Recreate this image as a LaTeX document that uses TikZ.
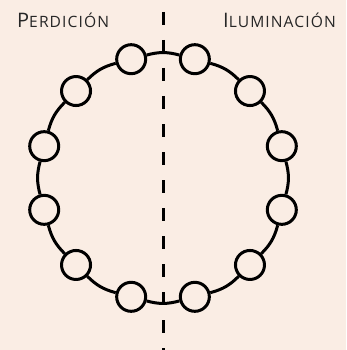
\documentclass[tikz,border=0pt]{standalone}
\usepackage{fontspec}
\setmainfont{Open Sans}[LetterSpace=7]
\definecolor{woodbg}{RGB}{250,237,228}
\newcommand{\smallcapsword}[2]{{\fontsize{20}{20}\selectfont #1}{\fontsize{15.6}{15.6}\selectfont #2}}
\begin{document}
\begin{tikzpicture}[x=1pt,y=-1pt,
  bead/.style={circle,draw=black,line width=3pt,fill=woodbg,minimum size=29pt,inner sep=0pt},
  ring/.style={line width=3pt,black},
  divider/.style={line width=3pt,black,dash pattern=on 13pt off 15pt,dash phase=0pt},
  label/.style={anchor=base west,inner sep=0pt,text=black!85}]
\fill[woodbg] (0,0) rectangle (346,350);
\useasboundingbox (0,0) rectangle (346,350);
\coordinate (dtop) at (163,12);
\coordinate (dbot) at (163,352);
\draw[divider] (dtop) -- (dbot);
\foreach \i in {0,...,11}{
  \pgfmathsetmacro{\a}{15+30*\i}
  \node[bead] (c\i) at ({163+123*cos(\a)},{178-123*sin(\a)}) {};
}
\foreach \i [evaluate=\i as \j using {int(mod(\i+1,12))}] in {0,...,11}{
  \draw[ring] (c\i) to[bend right=15] (c\j);
}
\node[label] (perd) at (17,28) {\smallcapsword{P}{ERDICIÓN}};
\node[label] (ilum) at (223,28) {\smallcapsword{I}{LUMINACIÓN}};
\end{tikzpicture}
\end{document}
